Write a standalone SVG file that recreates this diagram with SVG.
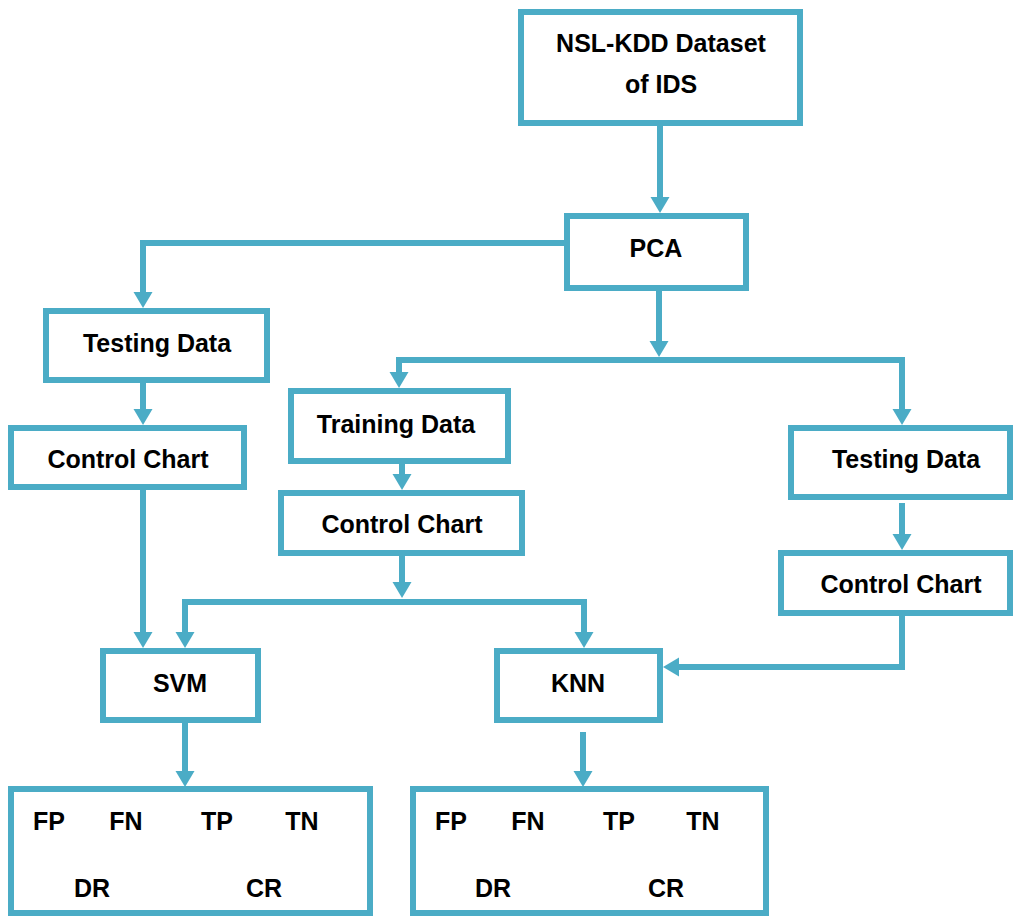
<svg xmlns="http://www.w3.org/2000/svg" width="1013" height="916" viewBox="0 0 1013 916">
  <style>
    .box { fill: #ffffff; stroke: #4BACC6; stroke-width: 6; }
    .link { fill: none; stroke: #4BACC6; stroke-width: 6; stroke-linejoin: miter; }
    .arrow { marker-end: url(#head); }
    .lbl { font-family: "Liberation Sans", Arial, sans-serif; font-weight: bold; font-size: 25px; fill: #000000; text-anchor: middle; }
  </style>
  <defs>
    <marker id="head" markerUnits="userSpaceOnUse" markerWidth="16" markerHeight="19" refX="0" refY="9.5" orient="auto" overflow="visible">
      <path d="M0,0 L16,9.5 L0,19 Z" fill="#4BACC6"/>
    </marker>
  </defs>
  <rect width="1013" height="916" fill="#ffffff"/>

  <!-- connectors -->
  <g id="connectors">
    <path class="link arrow" d="M660,126 V197"/>
    <path class="link arrow" d="M564,243 H143 V292"/>
    <path class="link arrow" d="M659,291 V341"/>
    <path class="link" d="M399,360 H902"/>
    <path class="link arrow" d="M399,357 V372"/>
    <path class="link arrow" d="M902,357 V409"/>
    <path class="link arrow" d="M143,383 V409"/>
    <path class="link arrow" d="M143,490 V632"/>
    <path class="link arrow" d="M402,464 V474"/>
    <path class="link arrow" d="M402,556 V582"/>
    <path class="link" d="M185,602 H584"/>
    <path class="link arrow" d="M185,599 V632"/>
    <path class="link arrow" d="M584,599 V632"/>
    <path class="link arrow" d="M902,503 V534"/>
    <path class="link arrow" d="M902,616 V667 H679"/>
    <path class="link arrow" d="M185,723 V771"/>
    <path class="link arrow" d="M583,732 V771"/>
  </g>

  <g id="dataset">
    <rect class="box" x="521" y="12" width="279" height="111"/>
    <text class="lbl" x="661" y="52">NSL-KDD Dataset</text>
    <text class="lbl" x="661" y="93">of IDS</text>
  </g>
  <g id="pca">
    <rect class="box" x="567" y="216" width="179" height="72"/>
    <text class="lbl" x="656" y="257">PCA</text>
  </g>
  <g id="testing-left">
    <rect class="box" x="46" y="311" width="221" height="69"/>
    <text class="lbl" x="157" y="352">Testing Data</text>
  </g>
  <g id="control-left">
    <rect class="box" x="11" y="428" width="233" height="59"/>
    <text class="lbl" x="128" y="468">Control Chart</text>
  </g>
  <g id="training">
    <rect class="box" x="291" y="391" width="217" height="70"/>
    <text class="lbl" x="396" y="433">Training Data</text>
  </g>
  <g id="control-mid">
    <rect class="box" x="281" y="493" width="241" height="60"/>
    <text class="lbl" x="402" y="533">Control Chart</text>
  </g>
  <g id="testing-right">
    <rect class="box" x="791" y="428" width="219" height="69"/>
    <text class="lbl" x="906" y="468">Testing Data</text>
  </g>
  <g id="control-right">
    <rect class="box" x="781" y="553" width="229" height="60"/>
    <text class="lbl" x="901" y="593">Control Chart</text>
  </g>
  <g id="svm">
    <rect class="box" x="103" y="651" width="155" height="69"/>
    <text class="lbl" x="180" y="692">SVM</text>
  </g>
  <g id="knn">
    <rect class="box" x="497" y="651" width="163" height="69"/>
    <text class="lbl" x="578" y="692">KNN</text>
  </g>
  <g id="metrics-svm">
    <rect class="box" x="11" y="789" width="359" height="124"/>
    <text class="lbl" x="49" y="830">FP</text>
    <text class="lbl" x="126" y="830">FN</text>
    <text class="lbl" x="217" y="830">TP</text>
    <text class="lbl" x="302" y="830">TN</text>
    <text class="lbl" x="92" y="897">DR</text>
    <text class="lbl" x="264" y="897">CR</text>
  </g>
  <g id="metrics-knn">
    <rect class="box" x="413" y="789" width="353" height="124"/>
    <text class="lbl" x="451" y="830">FP</text>
    <text class="lbl" x="528" y="830">FN</text>
    <text class="lbl" x="619" y="830">TP</text>
    <text class="lbl" x="703" y="830">TN</text>
    <text class="lbl" x="493" y="897">DR</text>
    <text class="lbl" x="666" y="897">CR</text>
  </g>
</svg>
